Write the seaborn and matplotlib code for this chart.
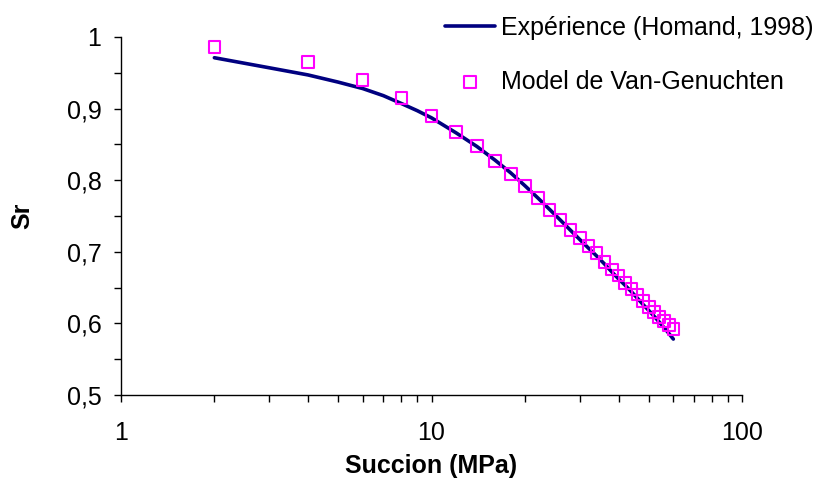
"""
Courbe de rétention : Sr en fonction de la succion (échelle log).
"""

import pandas as pd
import matplotlib.pyplot as plt
import matplotlib.ticker as mticker
import seaborn as sns

# Expérience (Homand, 1998) - courbe continue
exp_succion = [2, 3, 4, 5, 6, 7, 8, 9, 10, 12, 14, 16, 18, 20, 22, 24, 26, 28, 30,
               32, 34, 36, 38, 40, 42, 44, 46, 48, 50, 52, 54, 56, 58, 60]
exp_sr = [0.971, 0.957, 0.947, 0.937, 0.928, 0.918, 0.907, 0.897, 0.887, 0.866, 0.847,
          0.828, 0.810, 0.792, 0.775, 0.759, 0.744, 0.730, 0.717, 0.705, 0.694, 0.683,
          0.672, 0.662, 0.653, 0.644, 0.635, 0.626, 0.618, 0.610, 0.602, 0.594, 0.586, 0.578]

# Modèle de Van-Genuchten - points
vg_succion = [2, 4, 6, 8, 10, 12, 14, 16, 18, 20, 22, 24, 26, 28, 30,
              32, 34, 36, 38, 40, 42, 44, 46, 48, 50, 52, 54, 56, 58, 60]
vg_sr = [0.986, 0.965, 0.940, 0.915, 0.890, 0.867, 0.848, 0.827, 0.809, 0.792, 0.775,
         0.758, 0.744, 0.730, 0.719, 0.708, 0.698, 0.686, 0.675, 0.667, 0.656, 0.648,
         0.640, 0.631, 0.623, 0.616, 0.609, 0.603, 0.598, 0.592]

yticks = [0.5, 0.6, 0.7, 0.8, 0.9, 1.0]
ytick_labels = ['0,5', '0,6', '0,7', '0,8', '0,9', '1']
xticks = [1, 10, 100]
xtick_labels = ['1', '10', '100']

df_exp = pd.DataFrame({'Succion': exp_succion, 'Sr': exp_sr})
df_vg = pd.DataFrame({'Succion': vg_succion, 'Sr': vg_sr})

sns.set_style('ticks')
plt.rcParams['font.family'] = ['Liberation Sans', 'DejaVu Sans']

fig = plt.figure(figsize=(8.22, 4.93), dpi=100)
ax = fig.add_axes([0.147, 0.199, 0.756, 0.726])

sns.lineplot(data=df_exp, x='Succion', y='Sr', ax=ax, color='#000080', linewidth=2.6,
             label='Expérience (Homand, 1998)', sort=False)
sns.scatterplot(data=df_vg, x='Succion', y='Sr', ax=ax, marker='s', s=70,
                facecolor='none', edgecolor='#FF00FF', linewidth=1.5,
                label='Model de Van-Genuchten', zorder=3)

ax.set_xscale('log')
ax.set_xlim(1, 100)
ax.set_ylim(0.5, 1.0)
ax.set_xticks(xticks)
ax.set_xticklabels(xtick_labels)
ax.set_yticks(yticks)
ax.set_yticklabels(ytick_labels)
ax.yaxis.set_minor_locator(mticker.MultipleLocator(0.05))
ax.xaxis.set_minor_formatter(mticker.NullFormatter())

ax.tick_params(axis='both', which='both', direction='out', length=5, width=1,
               labelsize=18, colors='black')
ax.tick_params(axis='x', which='major', pad=14)
ax.tick_params(axis='y', which='major', pad=9)
for side in ['left', 'bottom']:
    ax.spines[side].set_color('black')
    ax.spines[side].set_linewidth(1)
sns.despine(ax=ax)

ax.set_xlabel('Succion (MPa)', fontsize=18, fontweight='bold', color='black')
ax.set_ylabel('Sr', fontsize=18, fontweight='bold', color='black')
ax.xaxis.set_label_coords(0.5, -0.165)
ax.yaxis.set_label_coords(-0.14, 0.5)

leg = ax.legend(loc='upper left', bbox_to_anchor=(0.541, 0.968), bbox_transform=fig.transFigure,
                frameon=False, fontsize=18, handlelength=2.0, handletextpad=0.25,
                labelspacing=1.2, borderaxespad=0, borderpad=0)
for text in leg.get_texts():
    text.set_color('black')

plt.savefig('out.png', dpi=100)
plt.close()
